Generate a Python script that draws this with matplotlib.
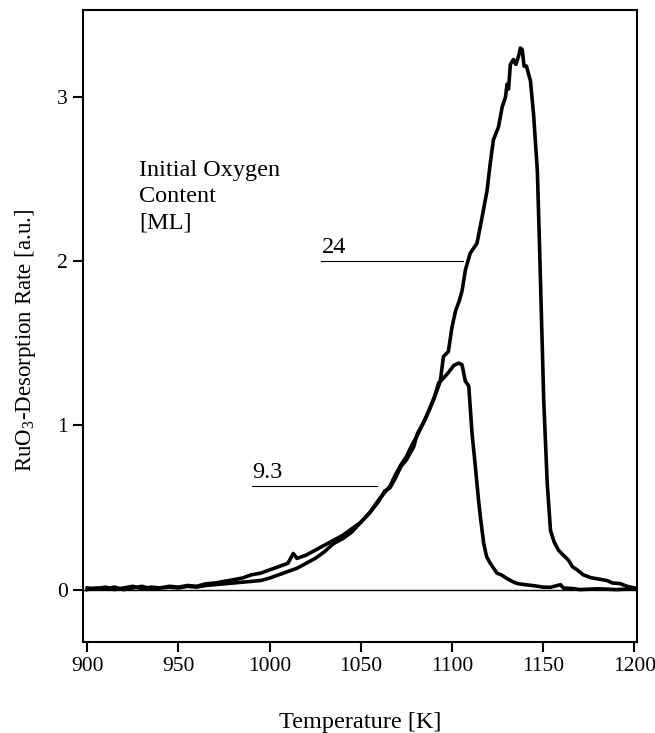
import matplotlib
matplotlib.use("Agg")
import matplotlib.pyplot as plt

plt.rcParams['font.family'] = ['Liberation Serif', 'DejaVu Serif']
plt.rcParams['mathtext.fontset'] = 'custom'
plt.rcParams['mathtext.rm'] = 'Liberation Serif'

# initial oxygen content 24 ML
temp_24 = [900, 905, 910, 915, 920, 925, 930, 935, 940, 945, 950, 955, 960, 965,
           970, 975, 980, 985, 990, 995, 1000, 1005, 1010, 1013, 1015, 1020, 1025,
           1030, 1035, 1040, 1045, 1050, 1055, 1060, 1063, 1066, 1069, 1072, 1075,
           1079, 1081, 1085, 1088, 1091, 1093.6, 1095.3, 1098, 1100, 1102, 1104,
           1105.5, 1107.4, 1110, 1113.7, 1116.5, 1119.2, 1121, 1122.7, 1125.5,
           1127.5, 1129.3, 1130.2, 1131, 1132, 1133.7, 1135, 1136.5, 1137.5, 1138.5,
           1139.5, 1140.8, 1143, 1144.7, 1146.8, 1148, 1148.9, 1150.3, 1152.2, 1154,
           1156, 1158.4, 1161, 1163.8, 1166, 1168.6, 1172, 1176, 1180, 1185, 1188,
           1192, 1196, 1200]
rate_24 = [0.01, 0.005, 0.015, 0.0, 0.01, 0.02, 0.005, 0.015, 0.01, 0.02, 0.015,
           0.025, 0.02, 0.035, 0.04, 0.05, 0.06, 0.07, 0.09, 0.10, 0.12, 0.14, 0.16,
           0.22, 0.19, 0.21, 0.24, 0.27, 0.30, 0.33, 0.37, 0.41, 0.47, 0.54, 0.60,
           0.62, 0.68, 0.75, 0.79, 0.87, 0.95, 1.03, 1.11, 1.19, 1.27, 1.42, 1.45,
           1.60, 1.70, 1.76, 1.82, 1.95, 2.05, 2.11, 2.27, 2.43, 2.60, 2.74, 2.82,
           2.94, 3.00, 3.08, 3.05, 3.20, 3.23, 3.20, 3.25, 3.30, 3.29, 3.19, 3.19,
           3.10, 2.90, 2.55, 2.09, 1.72, 1.15, 0.65, 0.36, 0.29, 0.24, 0.21, 0.18,
           0.14, 0.12, 0.09, 0.073, 0.065, 0.055, 0.04, 0.037, 0.02, 0.01]

# initial oxygen content 9.3 ML
temp_93 = [900, 905, 910, 915, 920, 925, 930, 935, 940, 945, 950, 955, 960, 965,
           970, 975, 980, 985, 990, 995, 1000, 1005, 1010, 1015, 1020, 1025, 1030,
           1035, 1040, 1045, 1050, 1055, 1060, 1063, 1066, 1069, 1072, 1075, 1078,
           1081, 1084, 1087, 1090, 1092.7, 1095.5, 1098.2, 1101, 1103.7, 1105.5,
           1107.3, 1109.2, 1111, 1112.8, 1114.6, 1115.6, 1117.4, 1119, 1121, 1124.7,
           1127, 1130.2, 1133, 1135.7, 1140, 1144.7, 1150, 1154, 1159.5, 1161,
           1166.6, 1170, 1180, 1190, 1200]
rate_93 = [0.0, 0.01, 0.005, 0.015, 0.0, 0.01, 0.02, 0.005, 0.01, 0.015, 0.01, 0.02,
           0.015, 0.025, 0.03, 0.035, 0.04, 0.045, 0.05, 0.055, 0.07, 0.09, 0.11,
           0.13, 0.16, 0.19, 0.23, 0.28, 0.31, 0.35, 0.41, 0.47, 0.55, 0.59, 0.63,
           0.70, 0.76, 0.81, 0.88, 0.94, 1.01, 1.08, 1.16, 1.26, 1.29, 1.325, 1.366,
           1.38, 1.37, 1.27, 1.24, 0.95, 0.75, 0.54, 0.44, 0.28, 0.20, 0.16, 0.10,
           0.09, 0.067, 0.05, 0.037, 0.03, 0.024, 0.015, 0.014, 0.03, 0.01, 0.006,
           0.0, 0.005, 0.0, 0.005]

# curve labels: text, text position, leader line (x0, x1, y)
labels = ['24', '9.3']
label_xy = [(1028.5, 2.05), (990.5, 0.68)]
leaders = [(1028, 1106, 2.0), (990.5, 1059, 0.63)]

fs = 17.5
tfs = 15.5
fig = plt.figure(figsize=(6.55, 7.33), dpi=100)
ax = fig.add_axes([0.127, 0.124, 0.846, 0.862])

ax.axhline(0, color='black', lw=1.0)
ax.plot(temp_93, rate_93, color='black', lw=2.6)
ax.plot(temp_24, rate_24, color='black', lw=2.6)

for lab, (tx, ty), (x0, x1, ly) in zip(labels, label_xy, leaders):
    ax.plot([x0, x1], [ly, ly], color='black', lw=0.8)
    ax.text(tx, ty, lab, fontsize=fs, va='baseline', ha='left')

ax.text(928.5, 2.615, 'Initial Oxygen\nContent\n[ML]', fontsize=fs,
        va='top', ha='left', linespacing=1.3)

ax.set_xlim(897.8, 1201.6)
ax.set_ylim(-0.32, 3.53)
ax.set_xticks([900, 950, 1000, 1050, 1100, 1150, 1200])
ax.set_yticks([0, 1, 2, 3])
ax.tick_params(direction='out', length=7, width=1.5, labelsize=tfs, pad=4)
for s in ax.spines.values():
    s.set_linewidth(1.5)

ax.set_xlabel('Temperature [K]', fontsize=fs)
ax.xaxis.set_label_coords(0.5, -0.11)
ax.set_ylabel(r'RuO$_\mathregular{3}$-Desorption Rate [a.u.]', fontsize=16.5)
ax.yaxis.set_label_coords(-0.082, 0.478)

fig.savefig('out.png', dpi=100)
